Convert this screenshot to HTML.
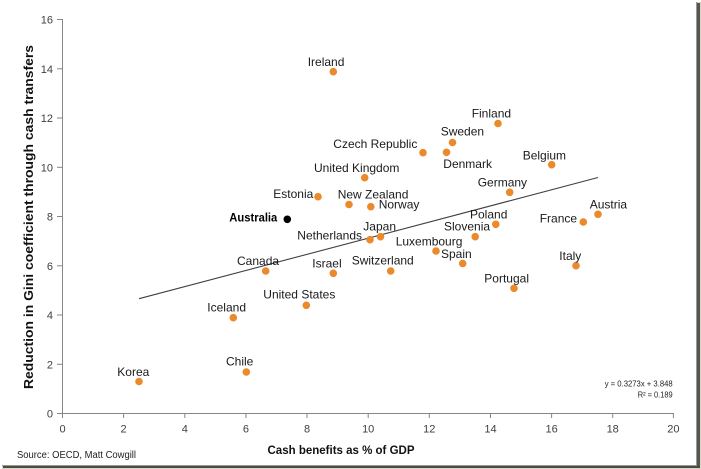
<!DOCTYPE html>
<html><head><meta charset="utf-8"><style>
html,body{margin:0;padding:0;background:#fff;}
svg{display:block;}
text{font-family:"Liberation Sans",Arial,sans-serif;}
.lb{font-size:12px;fill:#1a1a1a;}
.tk{font-size:11px;fill:#404040;}
</style></head><body>
<svg width="701" height="469" viewBox="0 0 701 469" xmlns="http://www.w3.org/2000/svg">
<rect x="0" y="0" width="701" height="469" fill="#fff"/>
<!-- frame shadow -->
<rect x="697" y="2" width="4" height="467" fill="#d9d6c4"/>
<rect x="697" y="3" width="3" height="466" fill="#555"/>
<rect x="2" y="466" width="699" height="3" fill="#d9d6c4"/>
<rect x="3" y="466" width="697" height="2" fill="#4a4a4a"/>
<line x1="696.5" y1="2" x2="696.5" y2="466" stroke="#9a9a8a" stroke-width="1"/>
<line x1="2" y1="465.5" x2="697" y2="465.5" stroke="#9a9a8a" stroke-width="1"/>

<!-- axes -->
<g stroke="#868686" stroke-width="1" fill="none">
<line x1="62.5" y1="19" x2="62.5" y2="414"/>
<line x1="62" y1="413.5" x2="674" y2="413.5"/>
<!-- y ticks -->
<line x1="57" y1="413.5" x2="62" y2="413.5"/>
<line x1="57" y1="364.3" x2="62" y2="364.3"/>
<line x1="57" y1="315" x2="62" y2="315"/>
<line x1="57" y1="265.8" x2="62" y2="265.8"/>
<line x1="57" y1="216.5" x2="62" y2="216.5"/>
<line x1="57" y1="167.3" x2="62" y2="167.3"/>
<line x1="57" y1="118" x2="62" y2="118"/>
<line x1="57" y1="68.8" x2="62" y2="68.8"/>
<line x1="57" y1="19.5" x2="62" y2="19.5"/>
<!-- x ticks -->
<line x1="62.5" y1="413" x2="62.5" y2="418"/>
<line x1="123.6" y1="413" x2="123.6" y2="418"/>
<line x1="184.8" y1="413" x2="184.8" y2="418"/>
<line x1="245.9" y1="413" x2="245.9" y2="418"/>
<line x1="307" y1="413" x2="307" y2="418"/>
<line x1="368.2" y1="413" x2="368.2" y2="418"/>
<line x1="429.3" y1="413" x2="429.3" y2="418"/>
<line x1="490.5" y1="413" x2="490.5" y2="418"/>
<line x1="551.6" y1="413" x2="551.6" y2="418"/>
<line x1="612.7" y1="413" x2="612.7" y2="418"/>
<line x1="673.4" y1="413" x2="673.4" y2="418"/>
</g>

<!-- y tick labels -->
<g class="tk" text-anchor="end">
<text x="53" y="417.5">0</text>
<text x="53" y="368.3">2</text>
<text x="53" y="319">4</text>
<text x="53" y="269.8">6</text>
<text x="53" y="220.5">8</text>
<text x="53" y="171.3">10</text>
<text x="53" y="122">12</text>
<text x="53" y="72.8">14</text>
<text x="53" y="23.5">16</text>
</g>
<!-- x tick labels -->
<g class="tk" text-anchor="middle">
<text x="62.5" y="432.5">0</text>
<text x="123.6" y="432.5">2</text>
<text x="184.8" y="432.5">4</text>
<text x="245.9" y="432.5">6</text>
<text x="307" y="432.5">8</text>
<text x="368.2" y="432.5">10</text>
<text x="429.3" y="432.5">12</text>
<text x="490.5" y="432.5">14</text>
<text x="551.6" y="432.5">16</text>
<text x="612.7" y="432.5">18</text>
<text x="673.4" y="432.5">20</text>
</g>

<!-- axis titles -->
<text x="267.5" y="454" font-size="12" font-weight="bold" fill="#111" textLength="147" lengthAdjust="spacingAndGlyphs">Cash benefits as % of GDP</text>
<text transform="translate(33,389) rotate(-90)" x="0" y="0" font-size="13" font-weight="bold" fill="#111" textLength="344" lengthAdjust="spacingAndGlyphs">Reduction in Gini coefficient through cash transfers</text>
<text x="17" y="458" font-size="10" fill="#222" textLength="119" lengthAdjust="spacingAndGlyphs">Source: OECD, Matt Cowgill</text>

<!-- trendline -->
<line x1="139" y1="298.7" x2="598" y2="177.5" stroke="#404040" stroke-width="1.1"/>
<text x="672.7" y="386.7" font-size="8" fill="#222" text-anchor="end" textLength="68" lengthAdjust="spacingAndGlyphs">y = 0.3273x + 3.848</text>
<text x="672.7" y="397.3" font-size="8" fill="#222" text-anchor="end" textLength="35" lengthAdjust="spacingAndGlyphs">R² = 0.189</text>

<!-- points -->
<g fill="#EC8A2B">
<circle cx="139" cy="381.5" r="3.8"/>
<circle cx="246.3" cy="372" r="3.8"/>
<circle cx="233.3" cy="317.7" r="3.8"/>
<circle cx="265.7" cy="271" r="3.8"/>
<circle cx="333.3" cy="273.3" r="3.8"/>
<circle cx="306.3" cy="305.3" r="3.8"/>
<circle cx="390.7" cy="271" r="3.8"/>
<circle cx="462.7" cy="263.5" r="3.8"/>
<circle cx="436" cy="251" r="3.8"/>
<circle cx="514" cy="288.3" r="3.8"/>
<circle cx="576" cy="265.7" r="3.8"/>
<circle cx="333.3" cy="71.7" r="3.8"/>
<circle cx="498" cy="123.5" r="3.8"/>
<circle cx="452.5" cy="142.5" r="3.8"/>
<circle cx="423" cy="152.7" r="3.8"/>
<circle cx="446.5" cy="152.3" r="3.8"/>
<circle cx="364.7" cy="177.7" r="3.8"/>
<circle cx="318" cy="196.7" r="3.8"/>
<circle cx="349" cy="204.5" r="3.8"/>
<circle cx="370.8" cy="206.7" r="3.8"/>
<circle cx="380.5" cy="236.7" r="3.8"/>
<circle cx="370" cy="239.7" r="3.8"/>
<circle cx="475.2" cy="236.7" r="3.8"/>
<circle cx="495.8" cy="224.3" r="3.8"/>
<circle cx="509.7" cy="192.3" r="3.8"/>
<circle cx="551.7" cy="164.7" r="3.8"/>
<circle cx="583.3" cy="222" r="3.8"/>
<circle cx="598" cy="214.3" r="3.8"/>
</g>
<circle cx="287.3" cy="219.3" r="3.8" fill="#000"/>

<!-- labels -->
<g class="lb">
<text x="117.3" y="376">Korea</text>
<text x="226" y="365.7">Chile</text>
<text x="207.3" y="311.3">Iceland</text>
<text x="237" y="265">Canada</text>
<text x="263.3" y="298.7">United States</text>
<text x="312.3" y="267.3">Israel</text>
<text x="351.7" y="264.7">Switzerland</text>
<text x="441" y="258">Spain</text>
<text x="395.7" y="245.7">Luxembourg</text>
<text x="484.3" y="282.3">Portugal</text>
<text x="559.3" y="260">Italy</text>
<text x="307.7" y="66">Ireland</text>
<text x="471.7" y="117.3">Finland</text>
<text x="440.7" y="135.7">Sweden</text>
<text x="333.3" y="148">Czech Republic</text>
<text x="443.3" y="168">Denmark</text>
<text x="314" y="172">United Kingdom</text>
<text x="273.3" y="198">Estonia</text>
<text x="337.7" y="198.7">New Zealand</text>
<text x="378.7" y="208.3">Norway</text>
<text x="363.3" y="230.7">Japan</text>
<text x="297.3" y="239.3">Netherlands</text>
<text x="444" y="230.7">Slovenia</text>
<text x="470" y="218.3">Poland</text>
<text x="477.7" y="186.7">Germany</text>
<text x="522.7" y="159.7">Belgium</text>
<text x="539.7" y="222.7">France</text>
<text x="589.7" y="208.3">Austria</text>
</g>
<text x="229.3" y="221.7" font-size="12" font-weight="bold" fill="#000" textLength="48" lengthAdjust="spacingAndGlyphs">Australia</text>
</svg>
</body></html>
